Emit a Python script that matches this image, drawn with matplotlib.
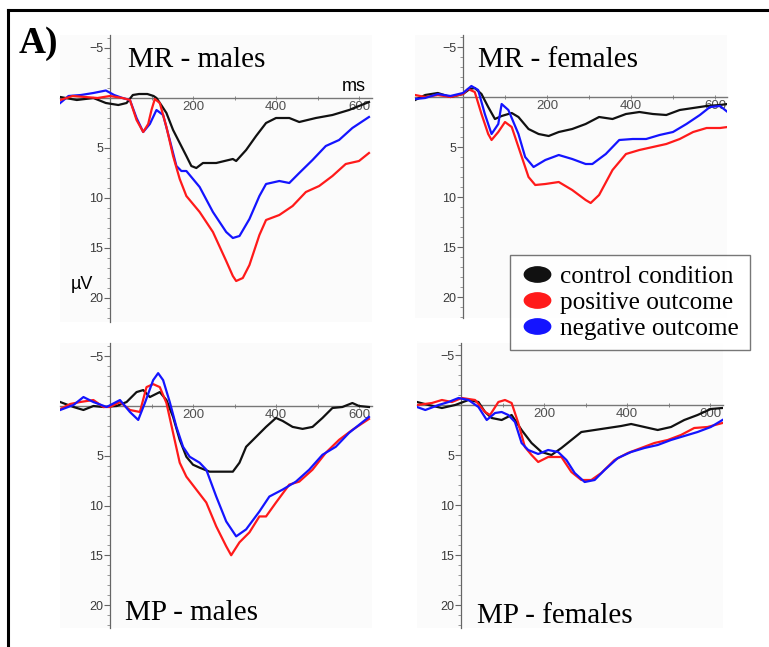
import matplotlib
matplotlib.use('Agg')
import matplotlib.pyplot as plt
from matplotlib.lines import Line2D
from matplotlib.path import Path
from matplotlib.transforms import Affine2D

W, H = 769, 647

BLACK = '#111111'
RED = '#ff1a1a'
BLUE = '#1414ff'

CONDITIONS = ["control condition", "positive outcome", "negative outcome"]

# MR - males
t_mrm_ctrl = [-120, -80, -40, -10, 20, 40, 55, 70, 90, 105, 112, 125, 136, 152, 168, 184, 196, 208, 224, 256,
              296, 304, 328, 352, 376, 400, 432, 456, 496, 536, 576, 624]
v_mrm_ctrl = [-0.1, 0.2, 0.0, 0.5, 0.7, 0.5, -0.3, -0.4, -0.4, -0.2, 0.0, 0.8, 1.5, 3.2, 4.5, 5.8, 6.8, 7.0, 6.5, 6.5,
              6.1, 6.3, 5.2, 3.8, 2.5, 2.0, 2.0, 2.4, 2.0, 1.7, 1.2, 0.4]
t_mrm_pos = [-120, -90, -60, -30, 0, 30, 48, 64, 80, 92, 100, 108, 120, 136, 152, 168, 184, 216, 248, 280,
             296, 304, 320, 336, 360, 376, 408, 440, 472, 504, 536, 568, 600, 624]
v_mrm_pos = [0.2, -0.2, -0.1, 0.0, -0.2, 0.0, 0.2, 2.2, 3.4, 2.6, 1.2, 0.1, 0.5, 2.9, 5.8, 8.1, 9.8, 11.4, 13.4, 16.3,
             17.8, 18.3, 18.0, 16.7, 13.7, 12.2, 11.7, 10.8, 9.4, 8.8, 7.8, 6.6, 6.3, 5.5]
t_mrm_neg = [-120, -100, -70, -40, -10, 10, 30, 48, 64, 80, 96, 112, 128, 144, 160, 172, 184, 216, 248, 280,
             296, 312, 336, 360, 376, 408, 432, 456, 488, 520, 552, 584, 624]
v_mrm_neg = [0.5, -0.2, -0.3, -0.5, -0.75, -0.3, 0.0, 0.2, 2.0, 3.4, 2.6, 1.2, 1.7, 4.2, 6.8, 7.3, 7.3, 8.9, 11.4, 13.4,
             14.0, 13.8, 12.1, 9.8, 8.6, 8.3, 8.5, 7.5, 6.2, 4.8, 4.2, 3.0, 1.9]

# MR - females
t_mrf_ctrl = [-114, -90, -60, -30, 0, 16, 28, 44, 60, 76, 92, 116, 132, 156, 180, 204, 228, 260, 292, 324,
              356, 388, 420, 452, 484, 516, 548, 580, 612, 630]
v_mrf_ctrl = [0.3, -0.2, -0.4, 0.0, -0.3, -0.8, -0.9, -0.3, 1.0, 2.2, 1.9, 1.6, 2.0, 3.2, 3.7, 3.9, 3.5, 3.2, 2.7, 2.0,
              2.2, 1.7, 1.5, 1.7, 1.8, 1.3, 1.1, 0.9, 0.8, 0.7]
t_mrf_pos = [-114, -90, -60, -30, 0, 12, 28, 44, 60, 68, 84, 100, 116, 132, 156, 172, 196, 228, 260, 292,
             304, 324, 356, 388, 420, 452, 484, 516, 548, 580, 612, 630]
v_mrf_pos = [-0.2, 0.0, -0.2, 0.0, -0.3, -0.8, -0.5, 1.7, 3.7, 4.3, 3.5, 2.5, 3.0, 5.0, 8.0, 8.8, 8.7, 8.5, 9.3, 10.3,
             10.6, 9.8, 7.3, 5.7, 5.3, 5.0, 4.7, 4.2, 3.5, 3.1, 3.1, 3.0]
t_mrf_neg = [-114, -90, -60, -30, 0, 20, 36, 52, 68, 84, 92, 108, 132, 148, 168, 196, 228, 260, 292, 308,
             340, 372, 404, 436, 468, 500, 532, 564, 588, 612, 630]
v_mrf_neg = [0.2, 0.1, -0.3, -0.1, -0.4, -1.1, -0.7, 1.7, 3.7, 2.7, 0.7, 1.3, 3.7, 6.0, 7.0, 6.3, 5.8, 6.2, 6.7, 6.7,
             5.7, 4.3, 4.2, 4.2, 3.8, 3.5, 2.7, 1.8, 1.0, 0.9, 1.5]

# MP - males
t_mpm_ctrl = [-120, -88, -64, -40, -16, 16, 40, 64, 80, 96, 120, 136, 152, 168, 184, 200, 216, 240, 272, 296,
              312, 328, 352, 376, 400, 416, 440, 464, 488, 512, 536, 560, 584, 600, 624]
v_mpm_ctrl = [-0.4, 0.1, 0.4, 0.0, 0.1, 0.0, -0.4, -1.4, -1.6, -0.9, -1.4, -0.6, 1.1, 3.4, 5.1, 5.9, 6.2, 6.6, 6.6, 6.6,
              5.7, 4.1, 3.1, 2.1, 1.2, 1.5, 2.1, 2.3, 2.1, 1.2, 0.2, 0.1, -0.3, 0.0, 0.1]
t_mpm_pos = [-120, -96, -72, -40, -16, 0, 24, 48, 72, 88, 104, 120, 136, 152, 168, 184, 208, 232, 256, 280,
             292, 312, 336, 360, 376, 400, 432, 456, 488, 520, 552, 584, 624]
v_mpm_pos = [0.3, -0.2, -0.4, -0.6, 0.1, 0.1, -0.4, 0.4, 0.6, -1.9, -2.2, -1.9, -0.3, 2.7, 5.7, 7.1, 8.4, 9.7, 12.1, 14.1,
             15.0, 13.7, 12.7, 11.1, 11.1, 9.7, 7.9, 7.6, 6.4, 4.7, 3.4, 2.4, 1.3]
t_mpm_neg = [-120, -88, -64, -40, -8, 24, 48, 68, 84, 104, 116, 128, 144, 160, 176, 192, 216, 232, 256, 280,
             304, 328, 360, 384, 416, 448, 480, 512, 544, 576, 624]
v_mpm_neg = [0.4, -0.1, -0.9, -0.4, 0.1, -0.6, 0.6, 1.4, -0.3, -2.6, -3.3, -2.6, -0.4, 2.1, 4.1, 5.1, 5.7, 6.4, 9.1, 11.6,
             13.1, 12.4, 10.6, 9.1, 8.4, 7.6, 6.4, 4.9, 4.1, 2.7, 1.1]

# MP - females
t_mpf_ctrl = [-106, -78, -46, -14, 18, 42, 58, 74, 98, 122, 146, 170, 194, 218, 242, 266, 290, 322, 354, 386,
              410, 442, 474, 506, 538, 570, 602, 630]
v_mpf_ctrl = [-0.3, 0.0, 0.3, 0.0, -0.5, -0.3, 0.7, 1.3, 1.5, 1.0, 2.5, 3.8, 4.7, 5.0, 4.3, 3.5, 2.7, 2.5, 2.3, 2.1,
              1.9, 2.2, 2.5, 2.2, 1.5, 1.0, 0.4, 0.3]
t_mpf_pos = [-106, -70, -46, -22, 2, 34, 58, 70, 90, 106, 122, 138, 154, 170, 186, 210, 242, 266, 290, 314,
             338, 370, 402, 434, 466, 498, 530, 562, 594, 630]
v_mpf_pos = [0.0, -0.2, -0.5, -0.3, -0.7, -0.5, 0.7, 1.0, -0.3, -0.5, -0.2, 1.8, 4.2, 5.0, 5.7, 5.2, 5.2, 6.7, 7.5, 7.5,
             6.8, 5.5, 4.8, 4.3, 3.8, 3.5, 3.0, 2.3, 2.2, 1.8]
t_mpf_neg = [-106, -86, -54, -30, -6, 18, 42, 62, 82, 98, 114, 130, 146, 162, 186, 210, 234, 254, 274, 298,
             322, 346, 378, 410, 442, 474, 506, 538, 570, 602, 630]
v_mpf_neg = [0.2, 0.5, 0.0, -0.3, -0.7, -0.5, 0.2, 1.5, 0.8, 0.7, 1.0, 1.7, 3.8, 4.5, 4.9, 4.5, 4.7, 5.5, 6.8, 7.7,
             7.5, 6.5, 5.3, 4.7, 4.3, 4.0, 3.5, 3.1, 2.7, 2.2, 1.5]

SERIF = 'Liberation Serif'
SANS = 'Liberation Sans'


def add_panel(fig, box, origin, ms_px, uv_px, series):
    # box and origin are in pixels from the top-left corner of the figure
    left, top, right, bottom = box
    ox, oy = origin
    ax = fig.add_axes([left / W, 1 - bottom / H, (right - left) / W, (bottom - top) / H])
    ax.set_facecolor('#fbfbfb')
    ax.set_xlim((left - ox) / ms_px, (right - ox) / ms_px)
    ax.set_ylim((bottom - oy) / uv_px, (top - oy) / uv_px)

    for t, v, c in series:
        ax.plot(t, v, color=c, lw=1.6, solid_joinstyle='round', zorder=3)

    for s in ('top', 'right'):
        ax.spines[s].set_visible(False)
    ax.spines['left'].set_position(('data', 0))
    ax.spines['bottom'].set_position(('data', 0))
    ax.spines['left'].set_color('#666666')
    ax.spines['left'].set_linewidth(0.9)
    ax.spines['bottom'].set_color('#777777')
    ax.spines['bottom'].set_linewidth(1.0)
    ax.spines['bottom'].set_linestyle((0, (1, 1)))

    ax.set_yticks([-5, 5, 10, 15, 20])
    ax.set_yticks(range(-6, 23), minor=True)
    ax.set_xticks([200, 400, 600])
    ax.set_xticks([100, 300, 500], minor=True)
    ax.tick_params(axis='y', which='major', length=4, width=0.8, color='#666666',
                   labelsize=9, labelcolor='#3a3a3a', pad=1)
    ax.tick_params(axis='y', which='minor', length=2, width=0.6, color='#888888')
    ax.tick_params(axis='x', which='both', direction='inout', length=3, width=0.7, color='#888888',
                   labelsize=9.5, labelcolor='#505050', pad=1)
    for lab in ax.get_xticklabels() + ax.get_yticklabels():
        lab.set_family(SANS)
    return ax


def main():
    fig = plt.figure(figsize=(W / 100, H / 100), dpi=100)

    add_panel(fig, (60, 35, 372, 322), (110, 98), 0.415, 10.0,
              [(t_mrm_ctrl, v_mrm_ctrl, BLACK), (t_mrm_neg, v_mrm_neg, BLUE), (t_mrm_pos, v_mrm_pos, RED)])
    add_panel(fig, (415, 35, 727, 318), (463, 97), 0.42, 10.0,
              [(t_mrf_ctrl, v_mrf_ctrl, BLACK), (t_mrf_pos, v_mrf_pos, RED), (t_mrf_neg, v_mrf_neg, BLUE)])
    add_panel(fig, (60, 343, 372, 628), (110, 406), 0.415, 9.95,
              [(t_mpm_ctrl, v_mpm_ctrl, BLACK), (t_mpm_pos, v_mpm_pos, RED), (t_mpm_neg, v_mpm_neg, BLUE)])
    add_panel(fig, (417, 343, 723, 628), (461, 405), 0.415, 10.0,
              [(t_mpf_ctrl, v_mpf_ctrl, BLACK), (t_mpf_pos, v_mpf_pos, RED), (t_mpf_neg, v_mpf_neg, BLUE)])

    def px_text(x, y, s, **kw):
        fig.text(x / W, 1 - y / H, s, **kw)

    px_text(128, 67, "MR - males", family=SERIF, fontsize=21, va='baseline')
    px_text(478, 67, "MR - females", family=SERIF, fontsize=21, va='baseline')
    px_text(125, 620, "MP - males", family=SERIF, fontsize=21, va='baseline')
    px_text(477, 623, "MP - females", family=SERIF, fontsize=21, va='baseline')
    px_text(19, 53, "A)", family=SERIF, fontsize=27, fontweight='bold', va='baseline')
    px_text(342, 91, "ms", family=SANS, fontsize=13, va='baseline')
    px_text(71, 289, "µV", family=SANS, fontsize=13, va='baseline')

    # outer frame: top and left edges only
    fig.add_artist(Line2D([8 / W, 1], [1 - 10 / H, 1 - 10 / H], color='black', lw=2.2, transform=fig.transFigure))
    fig.add_artist(Line2D([8 / W, 8 / W], [1 - 10 / H, 0], color='black', lw=2.2, transform=fig.transFigure))

    ellipse = Path.unit_circle().transformed(Affine2D().scale(1.0, 0.58))
    handles = [Line2D([], [], ls='none', marker=ellipse, markersize=19, color=c, markeredgecolor=c)
               for c in (BLACK, RED, BLUE)]
    leg = fig.legend(handles, CONDITIONS, loc='center', bbox_to_anchor=(630 / W, 1 - 302.5 / H),
                     prop={'family': SERIF, 'size': 18.2}, frameon=True, fancybox=False,
                     handlelength=1.25, handletextpad=0.3, labelspacing=0.12, borderpad=0.42,
                     borderaxespad=0)
    leg.get_frame().set_edgecolor('#555555')
    leg.get_frame().set_linewidth(1.0)

    plt.savefig('out.png', dpi=100)
    plt.close()


if __name__ == "__main__":
    main()
